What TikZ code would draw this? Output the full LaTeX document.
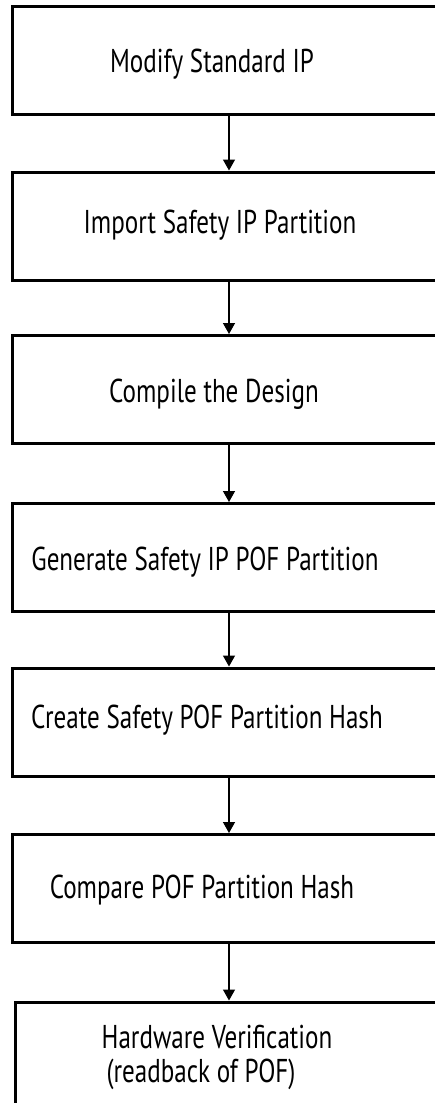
\documentclass[tikz,border=0pt]{standalone}
\usepackage{fontspec}
\usepackage{xcolor}
\usetikzlibrary{arrows.meta}
\setmainfont[FakeStretch=0.76]{PT Sans}

\tikzset{
  stepbox/.style={draw=black,line width=3pt,minimum width=434pt,minimum height=108pt,inner sep=0pt},
  steptext/.style={anchor=base,inner sep=0pt,font=\fontsize{33}{38}\selectfont},
  flow/.style={line width=1.4pt,-{Triangle[length=11pt,width=12pt]}}
}

\begin{document}
\begin{tikzpicture}[x=1pt,y=-1pt]
  \useasboundingbox (0,0) rectangle (435,1103);
  \clip (0,0) rectangle (435,1103);

  \node[stepbox] (modify)   at (229,60.5)  {};
  \node[stepbox] (import)   at (229,226)   {};
  \node[stepbox] (compile)  at (229,389.5) {};
  \node[stepbox] (generate) at (229,557.5) {};
  \node[stepbox] (create)   at (229,722)   {};
  \node[stepbox] (compare)  at (229,888.5) {};
  \node[stepbox,minimum width=428pt] (hardware) at (229,1056) {};

  \node[steptext] (tmodify)   at (212,72)  {Modify Standard IP};
  \node[steptext] (timport)   at (220,233) {Import Safety IP Partition};
  \node[steptext] (tcompile)  at (214,402) {Compile the Design};
  \node[steptext] (tgenerate) at (205,570) {Generate Safety IP POF Partition};
  \node[steptext] (tcreate)   at (207,728) {Create Safety POF Partition Hash};
  \node[steptext] (tcompare)  at (202,898) {Compare POF Partition Hash};
  \node[steptext] (thardware) at (217,1048) {Hardware Verification};
  \node[steptext] (treadback) at (201,1082) {(readback of POF)};

  \draw[flow] (modify.south)   -- (import.north);
  \draw[flow] (import.south)   -- (compile.north);
  \draw[flow] (compile.south)  -- (generate.north);
  \draw[flow] (generate.south) -- (create.north);
  \draw[flow] (create.south)   -- (compare.north);
  \draw[flow] (compare.south)  -- (hardware.north);
\end{tikzpicture}
\end{document}
